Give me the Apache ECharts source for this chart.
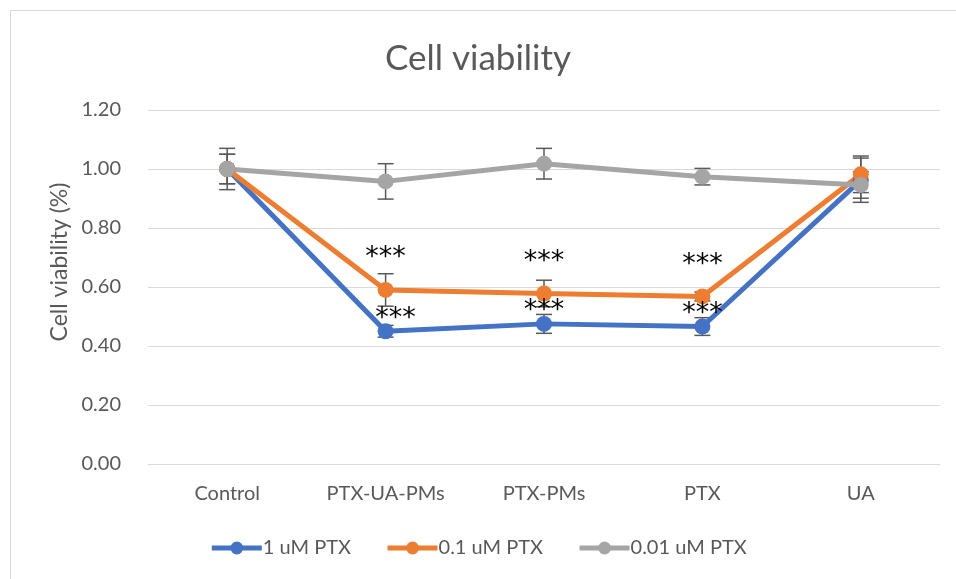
<!DOCTYPE html>
<html><head><meta charset="utf-8">
<script src="https://cdn.jsdelivr.net/npm/echarts@6/dist/echarts.min.js"></script>
<style>
html,body{margin:0;padding:0;background:#fff;}
#frame{position:absolute;left:10px;top:10px;width:960px;height:590px;border-left:1px solid #d9d9d9;border-top:1px solid #d9d9d9;}
#c{position:absolute;left:0;top:0;width:956px;height:579px;}
</style></head>
<body>
<div id="frame"></div>
<div id="c"></div>
<script>
var categories = ['Control', 'PTX-UA-PMs', 'PTX-PMs', 'PTX', 'UA'];
var seriesNames = ['1 uM PTX', '0.1 uM PTX', '0.01 uM PTX'];
var blueValues = [1.00, 0.45, 0.475, 0.466, 0.962];
var orangeValues = [1.00, 0.59, 0.578, 0.568, 0.982];
var grayValues = [1.00, 0.958, 1.018, 0.974, 0.946];
var blueErr = [0.05, 0.02, 0.032, 0.03, 0.075];
var orangeErr = [0.05, 0.055, 0.045, 0.015, 0.062];
var grayErr = [0.07, 0.06, 0.052, 0.028, 0.045];
var blueStars = ['', '***', '***', '***', ''];
var orangeStars = ['', '***', '***', '***', ''];

var colors = ['#4472C4', '#ED7D31', '#A5A5A5'];
var font = 'Lato, "Open Sans", sans-serif';
// small horizontal nudge of the lower star annotation at the 2nd category (as in the original)
var blueStarNudge = { 1: 10 };

function errData(vals, errs) {
  return vals.map(function (v, i) { return [i, v - errs[i], v + errs[i]]; });
}
function errSeries(vals, errs) {
  return {
    type: 'custom',
    data: errData(vals, errs),
    z: 1,
    silent: true,
    renderItem: function (params, api) {
      var x = api.value(0);
      var lo = api.coord([x, api.value(1)]);
      var hi = api.coord([x, api.value(2)]);
      var hw = 8;
      var st = { stroke: '#595959', lineWidth: 1.5 };
      return {
        type: 'group',
        children: [
          { type: 'line', shape: { x1: lo[0], y1: lo[1], x2: hi[0], y2: hi[1] }, style: st },
          { type: 'line', shape: { x1: lo[0] - hw, y1: lo[1], x2: lo[0] + hw, y2: lo[1] }, style: st },
          { type: 'line', shape: { x1: hi[0] - hw, y1: hi[1], x2: hi[0] + hw, y2: hi[1] }, style: st }
        ]
      };
    }
  };
}
function lineSeries(name, vals, color, stars, dist, nudge) {
  nudge = nudge || {};
  return {
    name: name,
    type: 'line',
    data: vals.map(function (v, i) {
      return { value: v, label: { show: !!stars[i], formatter: stars[i], offset: [nudge[i] || 0, 0] } };
    }),
    symbol: 'circle',
    symbolSize: 16,
    z: 3,
    lineStyle: { width: 5, color: color },
    itemStyle: { color: color },
    label: { position: 'top', distance: dist, color: '#000', fontSize: 27, fontFamily: 'DejaVu Sans', letterSpacing: 4 }
  };
}

var chart = echarts.init(document.getElementById('c'), null, { renderer: 'canvas' });
chart.setOption({
  animation: false,
  color: colors,
  title: {
    text: 'Cell viability', left: 'center', top: 36,
    textStyle: { fontFamily: font, fontSize: 35, fontWeight: 'normal', color: '#595959' }
  },
  grid: { left: 148, right: 16, top: 110, bottom: 115 },
  legend: {
    bottom: 16, left: 'center', itemGap: 34, itemWidth: 50, itemHeight: 16,
    data: seriesNames,
    lineStyle: { width: 5 },
    textStyle: { fontFamily: font, fontSize: 20, color: '#595959', padding: [0, 0, 0, -4] }
  },
  xAxis: {
    type: 'category', data: categories, boundaryGap: true,
    axisLine: { lineStyle: { color: '#d9d9d9', width: 1 } },
    axisTick: { show: false },
    axisLabel: { fontFamily: font, fontSize: 20, color: '#595959', margin: 20 }
  },
  yAxis: {
    type: 'value', min: 0, max: 1.2, interval: 0.2,
    name: 'Cell viability (%)', nameLocation: 'middle', nameGap: 77,
    nameTextStyle: { fontFamily: font, fontSize: 23, color: '#595959', padding: [0, 0, 0, 50] },
    axisLine: { show: false }, axisTick: { show: false },
    splitLine: { lineStyle: { color: '#d9d9d9', width: 1 } },
    axisLabel: { fontFamily: font, fontSize: 20, color: '#595959', margin: 27,
      formatter: function (v) { return v.toFixed(2); } }
  },
  series: [
    errSeries(blueValues, blueErr),
    errSeries(orangeValues, orangeErr),
    errSeries(grayValues, grayErr),
    lineSeries(seriesNames[0], blueValues, colors[0], blueStars, -9, blueStarNudge),
    lineSeries(seriesNames[1], orangeValues, colors[1], orangeStars, 10),
    lineSeries(seriesNames[2], grayValues, colors[2], ['', '', '', '', ''], 5)
  ]
});
</script>
</body></html>
